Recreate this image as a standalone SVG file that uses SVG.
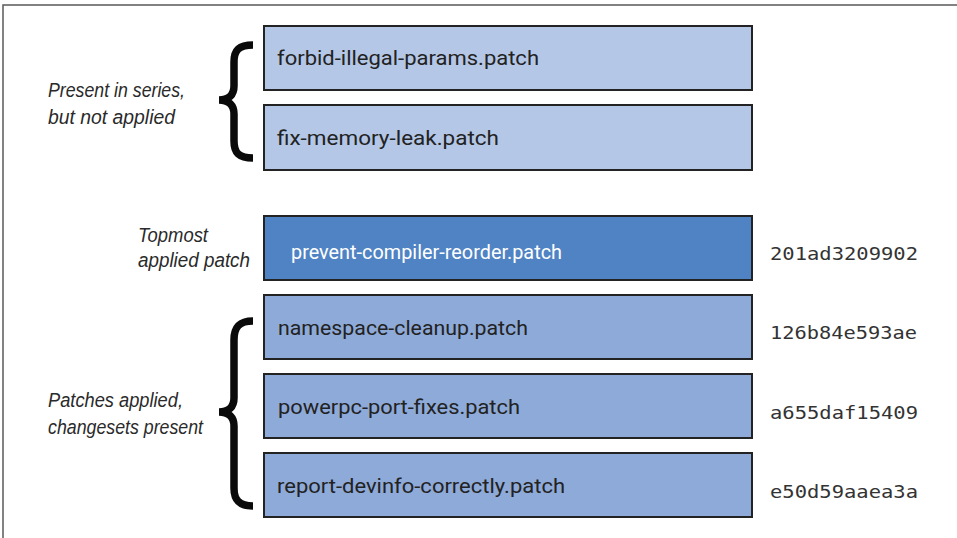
<svg xmlns="http://www.w3.org/2000/svg" width="957" height="538" viewBox="0 0 957 538">
<style>
.box{stroke:#232323;stroke-width:2}
.unapplied{fill:#b4c7e7}
.applied{fill:#8eaad9}
.top{fill:#4f83c3}
.pname{font-family:Roboto,"Liberation Sans",sans-serif;font-size:21px;fill:#222}
.pname.w{fill:#ffffff}
.hash{font-family:"DejaVu Sans Mono","Liberation Mono",monospace;font-size:18px;fill:#333}
.label{font-family:"Liberation Sans",Arial,sans-serif;font-style:italic;font-size:20.5px;fill:#2a2a2a}
.brace{fill:none;stroke:#0a0a0a;stroke-width:7.5}
</style>
<rect width="957" height="538" fill="#ffffff"/>
<path d="M3,538 L3,5 L957,5" fill="none" stroke="#5a5a5a" stroke-width="1.5"/>

<g id="label-unapplied">
<text class="label" x="48" y="97" textLength="137" lengthAdjust="spacingAndGlyphs">Present in series,</text>
<text class="label" x="48" y="124" textLength="127" lengthAdjust="spacingAndGlyphs">but not applied</text>
</g>
<g id="label-topmost">
<text class="label" x="138" y="242" textLength="70" lengthAdjust="spacingAndGlyphs">Topmost</text>
<text class="label" x="138" y="267" textLength="112" lengthAdjust="spacingAndGlyphs">applied patch</text>
</g>
<g id="label-applied">
<text class="label" x="48" y="407" textLength="135" lengthAdjust="spacingAndGlyphs">Patches applied,</text>
<text class="label" x="48" y="434" textLength="155" lengthAdjust="spacingAndGlyphs">changesets present</text>
</g>

<g id="braces">
<path class="brace" d="M253,45 C239,45 234,50 234,62 L234,86 C234,95 229,100 219,100 C229,100 234,105 234,114 L234,141 C234,153 239,158 253,158"/>
<path class="brace" d="M253,321 C239,321 234,327 234,340 L234,398 C234,407 229,412 219,412 C229,412 234,417 234,426 L234,488 C234,500 239,506 253,506"/>
</g>

<g id="connectors"></g>

<g id="patch-forbid">
<rect class="box unapplied" x="264" y="26" width="488" height="64"/>
<text class="pname" x="277" y="65" textLength="262" lengthAdjust="spacingAndGlyphs">forbid-illegal-params.patch</text>
</g>
<g id="patch-fix-memory">
<rect class="box unapplied" x="264" y="105" width="488" height="65"/>
<text class="pname" x="277" y="145" textLength="222" lengthAdjust="spacingAndGlyphs">fix-memory-leak.patch</text>
</g>
<g id="patch-prevent">
<rect class="box top" x="264" y="216" width="488" height="64"/>
<text class="pname w" x="291" y="259" textLength="271" lengthAdjust="spacingAndGlyphs">prevent-compiler-reorder.patch</text>
<text class="hash" x="770" y="260" textLength="148" lengthAdjust="spacingAndGlyphs">201ad3209902</text>
</g>
<g id="patch-namespace">
<rect class="box applied" x="264" y="295" width="488" height="64"/>
<text class="pname" x="278" y="335" textLength="250" lengthAdjust="spacingAndGlyphs">namespace-cleanup.patch</text>
<text class="hash" x="770" y="339" textLength="147" lengthAdjust="spacingAndGlyphs">126b84e593ae</text>
</g>
<g id="patch-powerpc">
<rect class="box applied" x="264" y="374" width="488" height="64"/>
<text class="pname" x="278" y="414" textLength="242" lengthAdjust="spacingAndGlyphs">powerpc-port-fixes.patch</text>
<text class="hash" x="770" y="419" textLength="148" lengthAdjust="spacingAndGlyphs">a655daf15409</text>
</g>
<g id="patch-report">
<rect class="box applied" x="264" y="453" width="488" height="64"/>
<text class="pname" x="277" y="493" textLength="288" lengthAdjust="spacingAndGlyphs">report-devinfo-correctly.patch</text>
<text class="hash" x="770" y="498" textLength="148" lengthAdjust="spacingAndGlyphs">e50d59aaea3a</text>
</g>
</svg>
